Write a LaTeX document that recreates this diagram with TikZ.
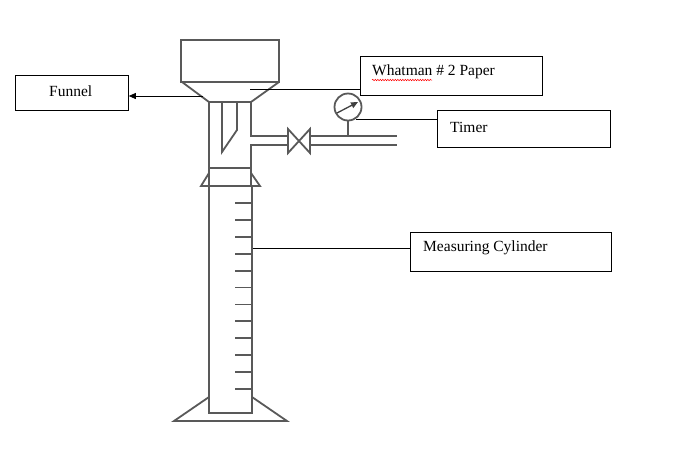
\documentclass[tikz,border=0pt]{standalone}
\usepackage{fontspec}
\setmainfont{Liberation Serif}
\usetikzlibrary{arrows.meta,decorations.pathmorphing}
\begin{document}
\begin{tikzpicture}[x=1pt,y=-1pt,
  app/.style={draw=black!65,line width=1.8pt,line join=miter},
  lbl/.style={draw=black,line width=0.8pt,fill=white},
  lead/.style={draw=black,line width=0.8pt},
  txt/.style={anchor=west,font=\fontsize{15.5}{18}\selectfont,inner sep=0pt}]
\useasboundingbox (0,0) rectangle (687,464);
% funnel
\draw[app] (181,40) rectangle (279,82);
\draw[app] (182,82) -- (209,102) -- (251,102) -- (279,82);
\draw[app] (209,102) -- (209,187);
\draw[app] (251,102) -- (251,136) -- (288,136);
\draw[app] (251,187) -- (251,145) -- (288,145);
\draw[app] (222,102) -- (222,152) -- (237,130) -- (237,102);
% valve
\draw[app] (288,129) -- (288,153) -- (310,129) -- (310,153) -- cycle;
\draw[app] (310,136) -- (397,136);
\draw[app] (310,145) -- (397,145);
% gauge
\draw[app] (348,121) -- (348,136);
\draw[app] (348,107) circle (13.5);
\draw[black!75,line width=1.3pt,-{Triangle[length=7pt,width=6pt]}] (337,113) -- (358,102);
% flare
\draw[app] (209,168) -- (251,168);
\draw[app] (209,173) -- (201,186) -- (260,186) -- (251,173);
% cylinder
\draw[app] (209,187) -- (209,413) -- (252,413) -- (252,187);
\foreach \i in {0,...,11}
  \draw[app] (235,{203+\i*16.9}) -- (252,{203+\i*16.9});
\draw[app] (209,397) -- (174,421) -- (287,421) -- (252,397);
% labels
\node[lbl,minimum width=113pt,minimum height=35pt,anchor=north west] (funnel) at (15,75) {};
\node[txt] at (49,91) {Funnel};
\coordinate (fc) at (203,96);
\draw[lead,-{Triangle[length=7pt,width=6pt]}] (fc) -- (funnel.east |- fc);
\node[lbl,minimum width=182pt,minimum height=39pt,anchor=north west] (what) at (360,56) {};
\node[txt] (wt) at (372,72) {Whatman \# 2 Paper};
\draw[red,line width=0.5pt,decorate,decoration={snake,amplitude=0.7pt,segment length=2.5pt}] (372,80) -- (432,80);
\coordinate (wc) at (250,89);
\draw[lead] (wc) -- (what.west |- wc);
\node[lbl,minimum width=173pt,minimum height=37pt,anchor=north west] (timer) at (437,110) {};
\node[txt] at (450,127) {Timer};
\coordinate (tc) at (356,119);
\draw[lead] (tc) -- (timer.west |- tc);
\node[lbl,minimum width=201pt,minimum height=39pt,anchor=north west] (meas) at (410,232) {};
\node[txt] at (423,248) {Measuring Cylinder};
\coordinate (mc) at (253,248);
\draw[lead] (mc) -- (meas.west |- mc);
\end{tikzpicture}
\end{document}
